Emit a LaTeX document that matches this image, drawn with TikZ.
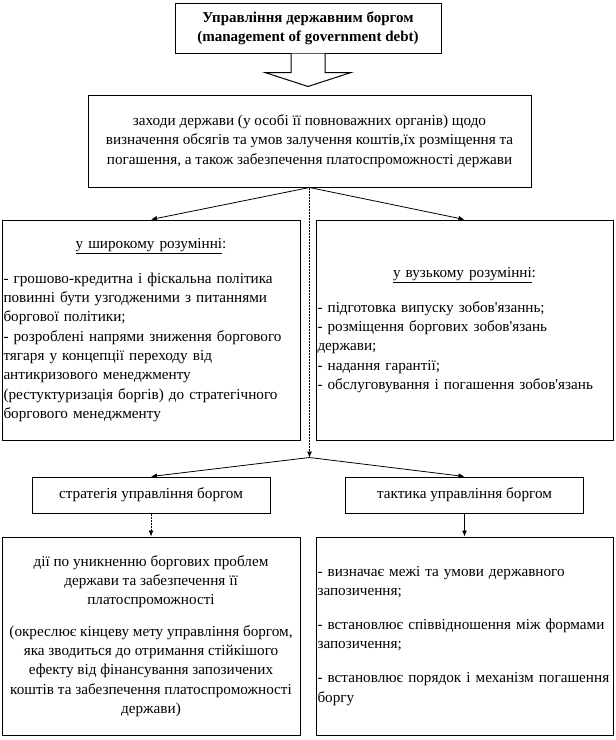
\documentclass[tikz,border=0pt]{standalone}
\usepackage{fontspec}
\setmainfont{Liberation Serif}
\usetikzlibrary{arrows.meta,calc}
\newcommand\bodyfs{\fontsize{15.2}{19.3}\selectfont}
\newcommand\titlefs{\fontsize{15}{19.3}\selectfont}
\begin{document}
\begin{tikzpicture}[x=1pt,y=-1pt,
  box/.style={draw=black, line width=1pt, inner xsep=1.5pt, inner ysep=2pt, font=\bodyfs},
  conn/.style={line width=0.8pt, -{Latex[length=6pt,width=5pt]}},
  dconn/.style={conn, dash pattern=on 2pt off 1pt}]
\useasboundingbox (0,0) rectangle (616,740);
% title
\node[box, minimum width=266pt, minimum height=50pt, align=center, font=\titlefs\bfseries] (title) at (308,28)
  {Управління державним боргом\\(management of government debt)};
% block arrow
\coordinate (ts) at (title.south);
\draw[line width=1pt, fill=white] (ts) ++(-17,0) -- ++(0,19) -- ++(-26,0) -- ++(43,14) -- ++(43,-14) -- ++(-26,0) -- ++(0,-19);
% context box
\node[box, minimum width=443pt, minimum height=92pt, align=center] (ctx) at (309.5,141)
  {заходи держави (у особі її повноважних органів) щодо\\визначення обсягів та умов залучення коштів,їх розміщення та\\погашення, а також забезпечення платоспроможності держави};
% wide sense
\node[box, minimum width=298pt, minimum height=220pt, text width=295pt] (wide) at (151,330)
  {\centering\underline{у широкому розумінні}:\par\vspace{15.5pt}\raggedright
   - грошово-кредитна і фіскальна політика\\повинні бути узгодженими з питаннями\\боргової політики;\\- розроблені напрями зниження боргового\\тягаря у концепції переходу від\\антикризового менеджменту\\(рестуктуризація боргів) до стратегічного\\боргового менеджменту\par};
% narrow sense
\node[box, minimum width=297pt, minimum height=220pt, text width=294pt] (narrow) at (464.5,330)
  {\centering\underline{у вузькому розумінні}:\par\vspace{15.5pt}\raggedright
   - підготовка випуску зобов\textquotesingle язаннь;\\- розміщення боргових зобов\textquotesingle язань\\держави;\\- надання гарантії;\\- обслуговування і погашення зобов\textquotesingle язань\par};
% strategy / tactics
\node[box, minimum width=238pt, minimum height=36pt] (strat) at (151,495) {стратегія управління боргом};
\node[box, minimum width=238pt, minimum height=36pt] (tact) at (464.5,495) {тактика управління боргом};
% bottom boxes
\node[box, minimum width=298pt, minimum height=198pt, align=center] (goal) at (151,636)
  {дії по уникненню боргових проблем\\держави та забезпечення її\\платоспроможності\\[12pt](окреслює кінцеву мету управління боргом,\\яка зводиться до отримання стійкішого\\ефекту від фінансування запозичених\\коштів та забезпечення платоспроможності\\держави)};
\node[box, minimum width=297pt, minimum height=198pt, text width=294pt, align=left] (tools) at (464.5,636)
  {- визначає межі та умови державного\\запозичення;\\[14pt]\mbox{- встановлює співвідношення між формами}\\запозичення;\\[15pt]\mbox{- встановлює порядок і механізм погашення}\\боргу};
% connectors
\coordinate (split) at ($(ctx.south)+(0,270)$);
\draw[conn] (ctx.south) -- (wide.north);
\draw[conn] (ctx.south) -- (narrow.north);
\draw[dconn] (ctx.south) -- (split);
\draw[conn] (split) -- (strat.north);
\draw[conn] (split) -- (tact.north);
\draw[dconn] (strat.south) -- (goal.north);
\draw[conn] (tact.south) -- (tools.north);
\end{tikzpicture}
\end{document}
